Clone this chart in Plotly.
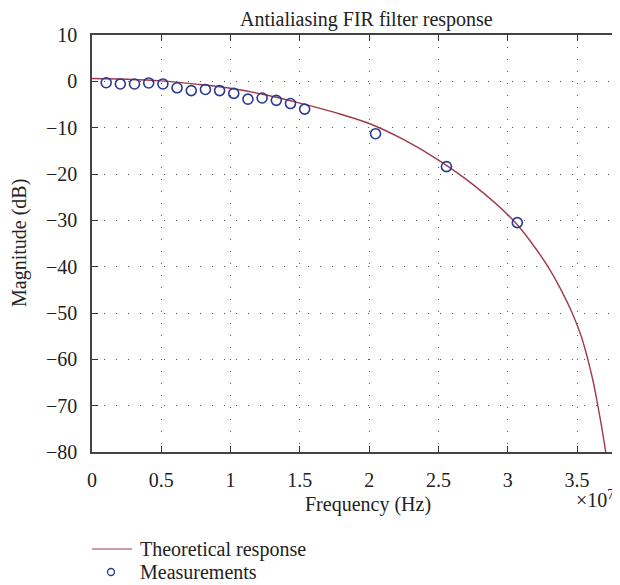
import plotly.graph_objects as go

# Theoretical response
theory_freq = [0.0, 0.25e7, 0.5e7, 0.75e7, 1.0e7, 1.25e7, 1.5e7, 1.75e7, 2.0e7, 2.25e7,
               2.5e7, 2.75e7, 3.04e7, 3.175e7, 3.29e7, 3.385e7, 3.465e7, 3.53e7, 3.578e7,
               3.618e7, 3.65e7, 3.68e7, 3.707e7]
theory_db = [0.6, 0.45, 0.1, -0.6, -1.5, -2.9, -4.7, -6.7, -9.1, -12.6,
             -17.0, -22.3, -30.0, -35.0, -40.0, -45.0, -50.0, -55.0, -60.0,
             -65.0, -70.0, -75.0, -80.0]

# Measurements
meas_freq = [1.023e6, 2.046e6, 3.069e6, 4.092e6, 5.115e6, 6.138e6, 7.161e6, 8.184e6,
             9.207e6, 10.23e6, 11.253e6, 12.276e6, 13.299e6, 14.322e6, 15.345e6,
             20.46e6, 25.575e6, 30.69e6]
meas_db = [-0.3, -0.56, -0.56, -0.35, -0.56, -1.4, -2.0, -1.75, -2.0, -2.6,
           -3.85, -3.6, -4.1, -4.8, -6.0, -11.3, -18.4, -30.5]

x_tickvals = [0, 0.5e7, 1.0e7, 1.5e7, 2.0e7, 2.5e7, 3.0e7, 3.5e7]
x_ticktext = ["0", "0.5", "1", "1.5", "2", "2.5", "3", "3.5"]
y_tickvals = [10, 0, -10, -20, -30, -40, -50, -60, -70, -80]

LINE_COLOR = "#9E3A4A"
MARK_COLOR = "#2B3990"
TXT = "#222222"
FONT = "Liberation Serif"
FS = 20
OFF = 8  # page body margin offset
W, H = 620 - OFF, 585 - OFF
L, T = 92 - OFF, 35 - OFF
R = 0
B = H - (452 - OFF)
pw = W - L - R
ph = H - T - B

def px(x):  # x in reference window pixels
    return (x - OFF - L) / pw

def py(y):  # y in reference window pixels
    return (H - B - (y - OFF)) / ph

fig = go.Figure()
fig.add_trace(go.Scatter(x=theory_freq, y=theory_db, mode="lines", name="Theoretical response",
                         line=dict(color=LINE_COLOR, width=1.4, shape="spline", smoothing=1.0),
                         showlegend=False))
fig.add_trace(go.Scatter(x=meas_freq, y=meas_db, mode="markers", name="Measurements",
                         marker=dict(symbol="circle-open", size=10, color=MARK_COLOR,
                                     line=dict(width=1.6, color=MARK_COLOR)),
                         showlegend=False))

grid = dict(showgrid=True, gridcolor="#555555", gridwidth=1, griddash="1px,11px")

fig.update_xaxes(range=[0, 3.81e7], tickvals=x_tickvals, ticktext=x_ticktext,
                 ticks="inside", ticklen=6, tickcolor="#333", showline=True, linecolor="#444",
                 linewidth=1.5, mirror="ticks", zeroline=False, ticklabelstandoff=9,
                 tickfont=dict(family=FONT, size=FS, color=TXT), **grid)
fig.update_yaxes(range=[-80, 10], tickvals=y_tickvals,
                 ticks="inside", ticklen=6, tickcolor="#333", showline=True, linecolor="#444",
                 linewidth=1.5, mirror=False, zeroline=False, ticklabelstandoff=9,
                 tickfont=dict(family=FONT, size=FS, color=TXT), **grid)

fig.update_layout(
    width=W, height=H,
    margin=dict(l=L, r=R, t=T, b=B),
    paper_bgcolor="white", plot_bgcolor="white",
    font=dict(family=FONT, size=FS, color=TXT),
    showlegend=False,
    shapes=[
        dict(type="line", xref="paper", yref="paper", x0=px(92), x1=px(132), y0=py(549), y1=py(549),
             line=dict(color=LINE_COLOR, width=1.2)),
        dict(type="circle", xref="paper", yref="paper", x0=px(107.5), x1=px(114.5),
             y0=py(568.5), y1=py(575.5), line=dict(color=MARK_COLOR, width=1.3)),
    ],
    annotations=[
        dict(text="Antialiasing FIR filter response", x=px(366), y=py(19), xref="paper", yref="paper",
             yanchor="middle", xanchor="center", showarrow=False,
             font=dict(family=FONT, size=FS, color=TXT)),
        dict(text="Frequency (Hz)", x=px(368), y=py(504), xref="paper", yref="paper",
             yanchor="middle", xanchor="center", showarrow=False,
             font=dict(family=FONT, size=FS, color=TXT)),
        dict(text="×10<sup>7</sup>", x=px(574), y=py(499), xref="paper", yref="paper",
             xanchor="left", yanchor="middle", showarrow=False,
             font=dict(family=FONT, size=FS, color=TXT)),
        dict(text="Magnitude (dB)", x=px(19), y=py(243), xref="paper", yref="paper",
             xanchor="center", yanchor="middle",
             textangle=-90, showarrow=False, font=dict(family=FONT, size=FS, color=TXT)),
        dict(text="Theoretical response", x=px(138), y=py(549), xref="paper", yref="paper",
             xanchor="left", yanchor="middle", showarrow=False,
             font=dict(family=FONT, size=FS, color=TXT)),
        dict(text="Measurements", x=px(138), y=py(572), xref="paper", yref="paper",
             xanchor="left", yanchor="middle", showarrow=False,
             font=dict(family=FONT, size=FS, color=TXT)),
    ],
)

fig.write_html("out.html")
